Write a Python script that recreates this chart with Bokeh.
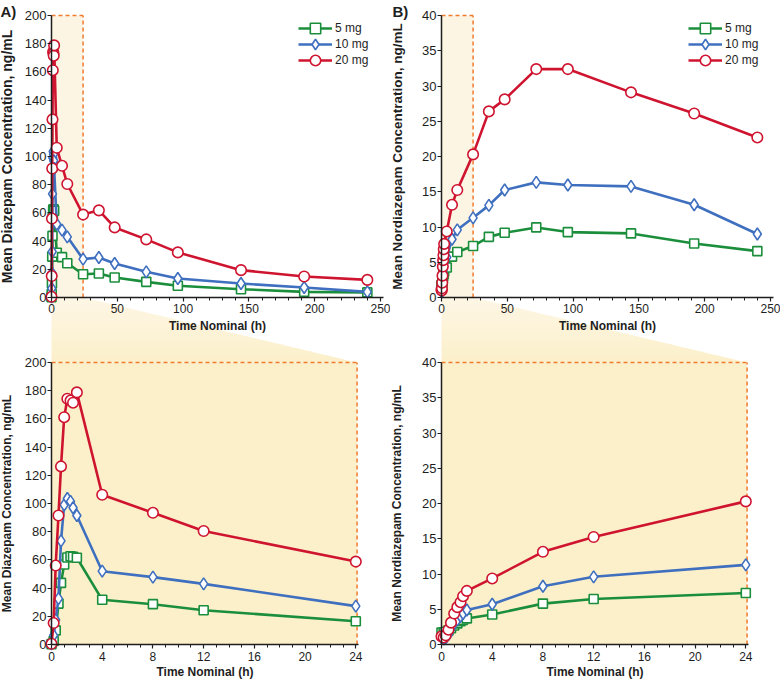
from bokeh.plotting import figure
from bokeh.models import Range1d, LinearAxis, FixedTicker, Legend, LegendItem, Label
from bokeh.layouts import row
from bokeh.embed import file_html
from bokeh.resources import INLINE

# ---------------- data ----------------
hours = [0, 0.17, 0.33, 0.55, 0.75, 1.0, 1.25, 1.5, 1.7, 2.0, 4, 8, 12, 24,
         36, 48, 72, 96, 144, 192, 240]
dose_labels = ["5 mg", "10 mg", "20 mg"]

diazepam_5mg = [0.3, 2.5, 10.0, 29.0, 43.7, 56.7, 61.7, 62.6, 62.2, 61.5, 31.7, 28.6, 24.3, 16.5,
                17.0, 14.2, 11.1, 8.3, 5.9, 4.0, 3.6]
diazepam_10mg = [0.5, 6.5, 17.5, 32.5, 73.5, 99.0, 103.5, 101.5, 97.0, 91.5, 52.0, 47.8, 43.0, 27.2,
                 28.4, 24.1, 18.2, 13.5, 9.9, 7.1, 4.0]
diazepam_20mg = [0.5, 15.2, 56.0, 91.5, 126.3, 161.2, 174.3, 173.0, 171.5, 178.8, 106.2, 93.4, 80.5, 58.8,
                 61.8, 49.7, 41.2, 32.0, 19.4, 14.9, 12.5]

nordiazepam_5mg = [1.7, 1.7, 1.8, 2.0, 2.3, 2.7, 3.0, 3.3, 3.5, 3.7, 4.25, 5.8, 6.45, 7.3,
                   8.6, 9.18, 9.94, 9.28, 9.09, 7.67, 6.58]
nordiazepam_10mg = [1.0, 0.8, 0.9, 1.4, 2.2, 3.0, 3.5, 4.0, 4.4, 4.9, 5.7, 8.27, 9.6, 11.3,
                    13.07, 15.24, 16.33, 15.95, 15.76, 13.16, 9.0]
nordiazepam_20mg = [1.15, 1.0, 1.3, 2.1, 3.1, 4.4, 5.3, 6.0, 6.85, 7.6, 9.37, 13.15, 15.25, 20.3,
                    26.4, 28.1, 32.4, 32.4, 29.1, 26.1, 22.7]

x_ticks_full = [0, 50, 100, 150, 200, 250]
x_ticks_zoom = [0, 4, 8, 12, 16, 20, 24]
y_ticks_diazepam = [0, 20, 40, 60, 80, 100, 120, 140, 160, 180, 200]
y_ticks_nordiazepam = [0, 5, 10, 15, 20, 25, 30, 35, 40]

ZOOM_HOURS = 24        # window magnified in the lower panels
N_ZOOM = 14            # samples up to 24 h

# ---------------- styling ----------------
FONT = "Liberation Sans"
COLORS = ["#1b8e3c", "#3f6fbf", "#cf1430"]
MARKERS = ["square", "diamond", "circle"]
SIZES = [9, 12, 10.5]
ORANGE = "#f07b2e"
TOP_SHADE = "#fdf5e3"
BOTTOM_SHADE = "#fcf0ca"
FUNNEL_TOP = (253, 246, 229)
FUNNEL_BOTTOM = (252, 240, 202)
W, H = 390, 682


def style_axis(axis, tick_fs, title_fs, standoff, label_standoff):
    axis.axis_line_width = 1.5
    axis.axis_line_color = "#1e1e1e"
    axis.major_tick_line_width = 1.2
    axis.major_tick_line_color = "#1e1e1e"
    axis.minor_tick_line_color = "#1e1e1e"
    axis.major_tick_out = 4
    axis.major_tick_in = 0
    axis.minor_tick_out = 3
    axis.minor_tick_in = 0
    axis.major_label_text_font = FONT
    axis.major_label_text_font_size = tick_fs
    axis.major_label_text_color = "#1e1e1e"
    axis.major_label_standoff = label_standoff
    axis.axis_label_text_font = FONT
    axis.axis_label_text_font_style = "bold"
    axis.axis_label_text_font_size = title_fs
    axis.axis_label_text_color = "#1e1e1e"
    axis.axis_label_standoff = standoff


def column_figure(letter, ytitle, series, ymax, y_ticks, g):
    fl, fr, ft, fb = 0, W, 0, H
    ax = g["ax"]
    sx_t = (g["x250"] - ax) / 250.0
    sx_b = (g["x24"] - ax) / 24.0
    sy_t = (g["yt0"] - g["yt_top"]) / ymax
    sy_b = (g["yb0"] - g["yb_top"]) / ymax

    xb = Range1d(-(ax - fl) / sx_b, (fr - ax) / sx_b)
    yb = Range1d(-(fb - g["yb0"]) / sy_b, (g["yb0"] - ft) / sy_b)
    p = figure(width=W, height=H, x_range=xb, y_range=yb,
               x_axis_type=None, y_axis_type=None,
               output_backend="svg", toolbar_location=None,
               min_border_left=0, min_border_right=0,
               min_border_top=0, min_border_bottom=0)
    p.extra_x_ranges = {"xt": Range1d(-(ax - fl) / sx_t, (fr - ax) / sx_t)}
    p.extra_y_ranges = {"yt": Range1d(-(fb - g["yt0"]) / sy_t, (g["yt0"] - ft) / sy_t)}
    p.outline_line_color = None
    p.background_fill_color = "white"
    p.border_fill_color = "white"
    T = dict(x_range_name="xt", y_range_name="yt")

    # shaded zoom window (top) and magnified box (bottom)
    p.quad(left=0, right=ZOOM_HOURS, bottom=0, top=ymax, fill_color=TOP_SHADE,
           line_color=None, level="underlay", **T)
    box_right = g["box_right"]
    p.quad(left=0, right=box_right, bottom=0, top=ymax, fill_color=BOTTOM_SHADE,
           line_color=None, level="underlay")
    # funnel joining the two, as graded bands
    y_top = (g["yb0"] - g["yt0"]) / sy_b
    x_top = ZOOM_HOURS * sx_t / sx_b
    n = 18
    xs, ys, cols = [], [], []
    for i in range(n):
        f0, f1 = i / n, min(1.0, (i + 1) / n + 0.01)
        ya = y_top + (ymax - y_top) * f0
        yc = y_top + (ymax - y_top) * f1
        xa = x_top + (box_right - x_top) * f0
        xc = x_top + (box_right - x_top) * f1
        xs.append([0, xa, xc, 0])
        ys.append([ya, ya, yc, yc])
        fm = (i + 0.5) / n
        c = tuple(int(round(a + (b - a) * fm)) for a, b in zip(FUNNEL_TOP, FUNNEL_BOTTOM))
        cols.append("#%02x%02x%02x" % c)
    p.patches(xs, ys, fill_color=cols, line_color=None, level="underlay")

    dash = dict(line_color=ORANGE, line_width=1.5, line_dash="4 3")
    p.segment(x0=[0, ZOOM_HOURS], y0=[ymax, 0], x1=[ZOOM_HOURS, ZOOM_HOURS], y1=[ymax, ymax], **dash, **T)
    p.segment(x0=[0, box_right], y0=[ymax, 0], x1=[box_right, box_right], y1=[ymax, ymax], **dash)

    items = []
    for lab, vals, col, mk, sz in zip(dose_labels, series, COLORS, MARKERS, SIZES):
        l1 = p.line(hours, vals, line_color=col, line_width=2.6, **T)
        s1 = p.scatter(hours, vals, marker=mk, size=sz, fill_color="white",
                       line_color=col, line_width=1.6, **T)
        p.line(hours[:N_ZOOM], vals[:N_ZOOM], line_color=col, line_width=2.6)
        p.scatter(hours[:N_ZOOM], vals[:N_ZOOM], marker=mk, size=sz, fill_color="white",
                  line_color=col, line_width=1.6)
        items.append(LegendItem(label=lab, renderers=[l1, s1]))

    # axes: top panel
    a = LinearAxis(fixed_location=0, bounds=(0, 252.3), axis_label="Time Nominal (h)",
                   ticker=FixedTicker(ticks=x_ticks_full, minor_ticks=list(range(0, 251, 10))), **T)
    style_axis(a, "12px", "12px", 3, 2)
    p.add_layout(a, "below")
    a = LinearAxis(fixed_location=0, bounds=(0, ymax), axis_label=ytitle,
                   ticker=FixedTicker(ticks=y_ticks), **T)
    style_axis(a, "13px", g["ytitle_fs"], g["ystand_t"], 1)
    a.minor_tick_line_color = None
    p.add_layout(a, "left")
    # axes: magnified panel
    a = LinearAxis(fixed_location=0, bounds=(0, 24.2), axis_label="Time Nominal (h)",
                   ticker=FixedTicker(ticks=x_ticks_zoom, minor_ticks=list(range(0, 25))))
    style_axis(a, "12px", "12px", 1, 3)
    p.add_layout(a, "below")
    a = LinearAxis(fixed_location=0, bounds=(0, ymax), axis_label=ytitle,
                   ticker=FixedTicker(ticks=y_ticks))
    style_axis(a, "13px", "12px", g["ystand_b"], 1)
    a.minor_tick_line_color = None
    p.add_layout(a, "left")

    # legend: one single-item legend per dose so rows are tight while the
    # tall glyph boxes keep the markers at full size
    gh, pitch = 26, 16
    for k, item in enumerate(items):
        center = g["leg_first"] + k * pitch
        legend = Legend(items=[item], location=(g["leg_left"] - fl, fb - (center - gh / 2) - gh),
                        padding=0, margin=0, spacing=0, label_height=gh, glyph_height=gh,
                        glyph_width=34, label_standoff=3, label_text_font=FONT,
                        label_text_font_size="12px", label_text_color="#1e1e1e",
                        background_fill_alpha=0, border_line_color=None)
        p.add_layout(legend)

    p.add_layout(Label(x=(g["lab_x"] - ax) / sx_t, y=(g["yt0"] - 2) / sy_t, text=letter,
                       text_font=FONT, text_font_style="bold", text_font_size="15px",
                       text_baseline="top", text_align="left", text_color="#1e1e1e", **T))
    return p


geoA = dict(ax=51, x250=380, x24=355.3, yt_top=15, yt0=297, yb_top=362, yb0=644,
            box_right=24.1, leg_left=298, leg_first=28, lab_x=0,
            ytitle_fs="14px", ystand_t=7, ystand_b=8)
geoB = dict(ax=51, x250=380, x24=355.3, yt_top=15, yt0=297, yb_top=362, yb0=644,
            box_right=24.1, leg_left=298, leg_first=28, lab_x=2,
            ytitle_fs="13.5px", ystand_t=14, ystand_b=15)

pA = column_figure("A)", "Mean Diazepam Concentration, ng/mL",
                   [diazepam_5mg, diazepam_10mg, diazepam_20mg], 200, y_ticks_diazepam, geoA)
pB = column_figure("B)", "Mean Nordiazepam Concentration, ng/mL",
                   [nordiazepam_5mg, nordiazepam_10mg, nordiazepam_20mg], 40, y_ticks_nordiazepam, geoB)

layout = row(pA, pB)
open("out.html", "w").write(file_html(layout, INLINE, title="Diazepam PK"))
